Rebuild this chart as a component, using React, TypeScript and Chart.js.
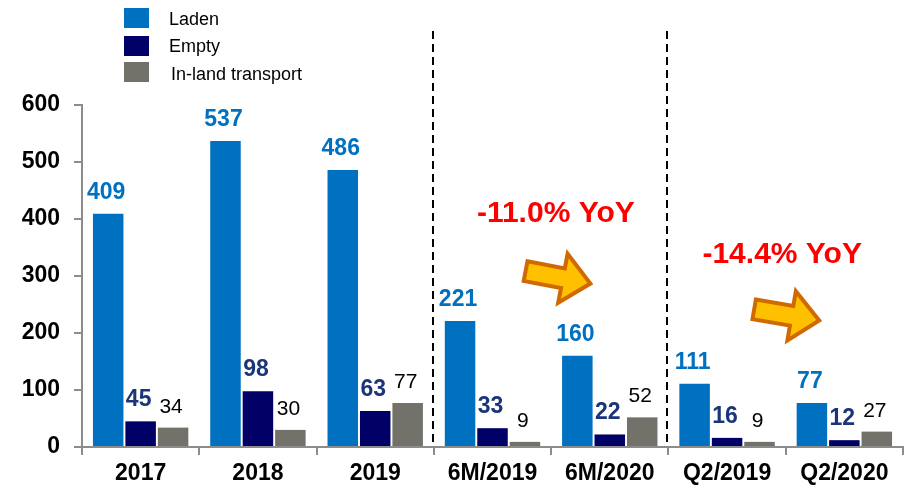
import React, { useEffect, useRef } from "react";
import { Chart, registerables } from "chart.js";

Chart.register(...registerables);

const categories = ["2017", "2018", "2019", "6M/2019", "6M/2020", "Q2/2019", "Q2/2020"];
const laden = [409, 537, 486, 221, 160, 111, 77];
const empty = [45, 98, 63, 33, 22, 16, 12];
const inland = [34, 30, 77, 9, 52, 9, 27];
const seriesNames = ["Laden", "Empty", "In-land transport"];
const yoyLabels = ["-11.0% YoY", "-14.4% YoY"];

const FONT = 'Arial, "Liberation Sans", sans-serif';
const barColors = ["#0070C0", "#000066", "#72726A"];
const labelColors = ["#0070C0", "#1A3578", "#000000"];
const labelFonts = [`bold 23px ${FONT}`, `bold 23px ${FONT}`, `21px ${FONT}`];
const axisGray = "#8C8C8C";

const labelPlugin = {
  id: "barLabels",
  afterDatasetsDraw(chart: any) {
    const ctx = chart.ctx;
    chart.data.datasets.forEach((ds: any, i: number) => {
      const meta = chart.getDatasetMeta(i);
      meta.data.forEach((bar: any, j: number) => {
        ctx.save();
        ctx.font = labelFonts[i];
        ctx.fillStyle = labelColors[i];
        ctx.textAlign = "center";
        ctx.textBaseline = "alphabetic";
        ctx.fillText(String(ds.data[j]), bar.x - 2, bar.y - 15);
        ctx.restore();
      });
    });
  },
};

function drawArrow(ctx: any, cx: number, cy: number, angle: number) {
  ctx.save();
  ctx.translate(cx, cy);
  ctx.rotate(angle);
  ctx.beginPath();
  ctx.moveTo(-32, -10);
  ctx.lineTo(6, -10);
  ctx.lineTo(6, -25);
  ctx.lineTo(34, 0);
  ctx.lineTo(6, 25);
  ctx.lineTo(6, 10);
  ctx.lineTo(-32, 10);
  ctx.closePath();
  ctx.fillStyle = "#FFC000";
  ctx.fill();
  ctx.lineWidth = 4;
  ctx.lineJoin = "miter";
  ctx.strokeStyle = "#D06A00";
  ctx.stroke();
  ctx.restore();
}

const decorPlugin = {
  id: "decor",
  afterDraw(chart: any) {
    const ctx = chart.ctx;
    const xs = chart.scales.x;
    const ys = chart.scales.y;
    // dashed separators
    ctx.save();
    ctx.strokeStyle = "#000000";
    ctx.lineWidth = 2;
    ctx.setLineDash([8, 5]);
    [2.5, 4.5].forEach((v) => {
      const x = Math.round(xs.getPixelForValue(v)) - 1;
      ctx.beginPath();
      ctx.moveTo(x, ys.getPixelForValue(730));
      ctx.lineTo(x, ys.getPixelForValue(0));
      ctx.stroke();
    });
    ctx.restore();

    // YoY texts
    ctx.save();
    ctx.font = `bold 30px ${FONT}`;
    ctx.fillStyle = "#FF0000";
    ctx.textAlign = "center";
    ctx.textBaseline = "middle";
    ctx.fillText(yoyLabels[0], xs.getPixelForValue(3.54), ys.getPixelForValue(410));
    ctx.fillText(yoyLabels[1], xs.getPixelForValue(5.47), ys.getPixelForValue(338));
    ctx.restore();

    // arrows
    drawArrow(ctx, xs.getPixelForValue(3.55), ys.getPixelForValue(298), 0.19);
    drawArrow(ctx, xs.getPixelForValue(5.5), ys.getPixelForValue(232), 0.17);

    // legend
    ctx.save();
    const boxY = [8, 36, 62];
    const textY = [20, 47, 75];
    const textX = [169, 169, 171];
    seriesNames.forEach((name, i) => {
      ctx.fillStyle = barColors[i];
      ctx.fillRect(124, boxY[i], 25, 20);
      ctx.fillStyle = "#000000";
      ctx.font = `18px ${FONT}`;
      ctx.textAlign = "left";
      ctx.textBaseline = "middle";
      ctx.fillText(name, textX[i], textY[i]);
    });
    ctx.restore();
  },
};

export default function App() {
  const ref = useRef<HTMLCanvasElement | null>(null);
  useEffect(() => {
    if (!ref.current) return;
    const datasets = [laden, empty, inland].map((d, i) => ({
      label: seriesNames[i],
      data: d,
      backgroundColor: barColors[i],
      borderWidth: 0,
      barPercentage: 0.94,
      categoryPercentage: 0.83,
    }));
    const chart = new Chart(ref.current, {
      type: "bar",
      data: { labels: categories, datasets },
      options: {
        responsive: false,
        animation: false,
        layout: { padding: { top: 105, right: 16, left: 0, bottom: 0 } },
        plugins: { legend: { display: false }, tooltip: { enabled: false } },
        scales: {
          x: {
            afterFit: (s: any) => {
              s.height = 40;
            },
            grid: {
              display: true,
              drawOnChartArea: false,
              drawTicks: true,
              tickLength: 8,
              color: axisGray,
              lineWidth: 2,
              offset: true,
            },
            border: { display: true, color: axisGray, width: 2 },
            ticks: {
              color: "#000000",
              font: { family: FONT, size: 23, weight: "bold" },
              padding: 5,
            },
          },
          y: {
            min: 0,
            max: 600,
            afterFit: (s: any) => {
              s.width = 82;
            },
            grid: {
              display: true,
              drawOnChartArea: false,
              drawTicks: true,
              tickLength: 8,
              color: axisGray,
              lineWidth: 2,
            },
            border: { display: true, color: axisGray, width: 2 },
            ticks: {
              stepSize: 100,
              color: "#000000",
              font: { family: FONT, size: 23, weight: "bold" },
              padding: 14,
            },
          },
        },
      },
      plugins: [labelPlugin, decorPlugin],
    });
    return () => chart.destroy();
  }, []);
  return (
    <div style={{ position: "fixed", left: 0, top: 0, width: 919, height: 487, background: "#ffffff" }}>
      <canvas ref={ref} width={919} height={487} style={{ display: "block" }} />
    </div>
  );
}
